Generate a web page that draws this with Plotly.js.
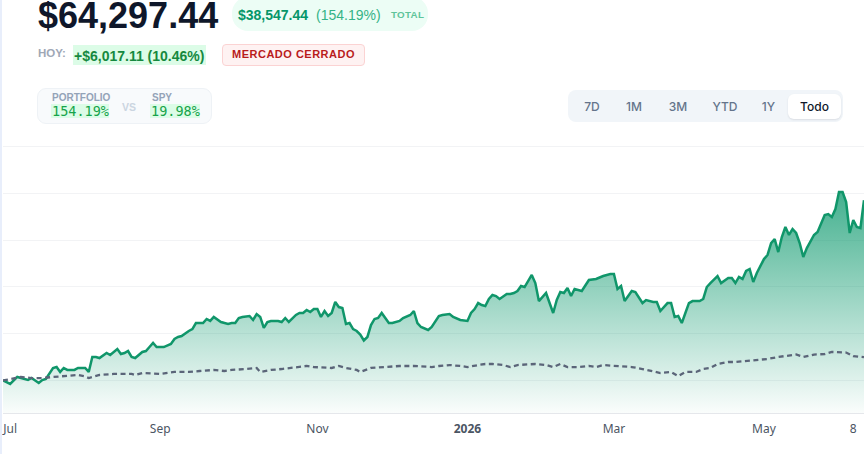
<!DOCTYPE html>
<html>
<head>
<meta charset="utf-8">
<script src="https://cdn.plot.ly/plotly-3.0.1.min.js"></script>
<style>
  html, body { margin:0; padding:0; background:#fff; }
  body { width:865px; height:454px; overflow:hidden; position:relative; font-family:"Liberation Sans", Arial, sans-serif; }
  #leftbar { position:absolute; left:0; top:0; width:2px; height:454px; background:#e8eefb; z-index:3; }
  #chart { position:absolute; left:0; top:0; width:865px; height:454px; z-index:1; }
  .a { position:absolute; white-space:nowrap; z-index:2; }
  #big { left:38px; top:0px; font-size:36px; line-height:31px; font-weight:bold; color:#0f172a; }
  #pill { left:232px; top:-3px; width:196px; height:34px; border-radius:16px; background:#ecfdf5; }
  #pillA { left:238px; top:8.2px; font-size:14px; line-height:14px; font-weight:bold; color:#059669; }
  #pillB { left:316px; top:8.2px; font-size:14px; line-height:14px; color:#34b386; }
  #pillC { left:391px; top:10.3px; font-size:9.8px; line-height:9.8px; font-weight:bold; color:#5fc49a; letter-spacing:0.3px; }
  #hoy { left:38px; top:47.8px; font-size:11.5px; line-height:11.5px; font-weight:bold; color:#a0a8b6; }
  #todayBg { left:73px; top:45px; width:133px; height:20px; background:#dcfce7; }
  #today { left:74px; top:49px; font-size:14px; line-height:14px; font-weight:bold; color:#16893f; }
  #closed { left:222px; top:44px; width:141px; height:20px; background:#fef2f2; border:1px solid #fbd3d3; border-radius:4px; }
  #closedT { left:232px; top:49px; font-size:11px; line-height:11px; font-weight:bold; color:#b91c1c; letter-spacing:0.5px; }
  #cmp { left:37px; top:88px; width:173px; height:34px; background:#f8fafc; border:1px solid #eef2f6; border-radius:9px; }
  .lab { font-size:10px; line-height:10px; font-weight:bold; color:#94a3b8; }
  #pl { left:52px; top:92.8px; }
  #sl { left:152px; top:92.8px; }
  #vs { left:122px; top:101.5px; font-size:10.5px; line-height:10.5px; font-weight:bold; color:#cbd5e1; }
  .mono { font-family:"DejaVu Sans Mono", monospace; font-size:13.5px; line-height:14px; color:#16a34a; background:#dcfce7; padding:0 0 0 1px; }
  #pv { left:51px; top:104.2px; }
  #sv { left:150px; top:104.2px; }
  #rng { left:568px; top:90px; width:275px; height:32px; background:#f1f5f9; border-radius:8px; }
  .btn { position:absolute; top:4px; height:25px; line-height:25px; text-align:center; font-family:Inter, "Noto Sans", sans-serif; font-size:12px; font-weight:500; color:#64748b; z-index:2; }
  .btn.on { background:#fff; border-radius:6px; color:#0f172a; box-shadow:0 1px 2px rgba(15,23,42,0.10); }
</style>
</head>
<body>
<div id="chart"></div>
<div id="leftbar"></div>
<div class="a" id="big">$64,297.44</div>
<div class="a" id="pill"></div>
<div class="a" id="pillA">$38,547.44</div>
<div class="a" id="pillB">(154.19%)</div>
<div class="a" id="pillC">TOTAL</div>
<div class="a" id="hoy">HOY:</div>
<div class="a" id="todayBg"></div>
<div class="a" id="today">+$6,017.11 (10.46%)</div>
<div class="a" id="closed"></div>
<div class="a" id="closedT">MERCADO CERRADO</div>
<div class="a" id="cmp"></div>
<div class="a lab" id="pl">PORTFOLIO</div>
<div class="a lab" id="sl">SPY</div>
<div class="a" id="vs">VS</div>
<div class="a mono" id="pv">154.19%</div>
<div class="a mono" id="sv">19.98%</div>
<div class="a" id="rng"></div>
<div id="btns"></div>
<script>
// ---- data (trading-day index since start, % return) ----
const portfolioDays = [0,2,4,5,7,8,10,11,12,14,15,16,17,18,20,21,23,24,25,26,27,29,30,32,33,34,35,36,37,39,40,41,42,43,45,47,48,49,50,52,53,54,56,57,58,59,61,63,64,65,66,67,69,70,71,72,73,74,75,77,78,79,80,82,83,84,85,86,87,88,89,90,91,92,93,94,95,96,97,98,99,100,101,102,103,104,105,106,108,109,111,112,114,115,116,117,119,120,122,123,125,126,128,130,131,132,133,134,135,136,137,138,139,141,142,143,144,145,146,148,149,150,152,154,155,156,157,158,159,160,162,164,166,168,170,171,172,173,174,176,177,179,180,182,183,184,186,187,188,189,190,191,192,193,195,196,197,198,200,201,203,204,205,206,207,208,209,210,211,213,214,215,216,217,218,219,220,221,222,223,224,225,227,228,230,231,232,233,234,235,236,237,238,239,240,241];
const portfolioPct = [0,-3.0,3.0,2.1,0.4,2.1,-2.1,0.4,1.3,10.7,11.5,7.3,10.7,9.0,9.0,10.7,10.7,7.3,20.1,20.1,19.2,23.5,21.8,26.9,22.6,23.5,25.2,20.1,19.2,24.4,25.2,28.6,32.1,28.6,28.6,31.2,35.5,37.2,38.0,42.3,44.0,49.1,49.1,52.6,50.9,54.3,50.0,48.3,49.1,49.1,53.4,54.3,55.1,51.7,56.8,54.3,44.9,50.0,50.9,50.9,50.0,53.4,50.0,56.0,57.7,57.7,60.3,58.5,61.1,61.1,54.3,59.4,55.1,57.7,67.1,62.8,62.0,48.3,49.1,44.0,42.3,39.3,34.2,37.2,47.4,52.6,53.4,57.7,49.1,49.1,50.9,53.4,56.0,59.4,49.1,45.7,43.2,45.7,55.1,56.0,56.8,54.3,51.7,50.9,57.7,61.1,66.2,64.5,63.7,69.7,73.1,72.2,69.7,73.9,73.9,74.8,76.5,80.8,79.9,90.2,83.3,67.9,74.8,57.7,68.8,75.6,74.8,79.1,72.2,78.2,76.5,85.9,86.8,89.3,91.0,91.0,78.2,80.8,67.9,76.5,75.6,66.2,68.8,67.1,67.1,59.4,66.2,66.2,54.3,55.1,49.1,57.7,66.2,67.9,67.9,69.7,79.9,83.3,89.3,83.3,87.6,87.6,83.3,88.5,86.8,93.6,95.3,84.2,91.9,103.8,107.3,117.5,120.9,109.8,122.6,131.2,124.4,129.5,126.1,117.5,105.6,113.2,124.4,126.9,141.5,142.3,139.7,146.6,161.1,161.1,152.6,126.1,137.2,131.2,130.3,154.19];
const spyDays = [0,3,5,8,11,14,18,21,23,24,27,31,36,37,39,44,48,52,55,59,62,64,68,71,72,75,78,83,85,87,90,92,94,96,99,100,103,106,108,111,115,118,120,122,125,128,130,133,135,137,140,142,144,149,152,154,156,158,161,164,166,168,171,174,176,179,182,184,187,189,191,194,196,198,200,203,205,208,210,214,217,219,222,224,227,230,232,236,238,241];
const spyPct = [0,2.1,3.0,2.1,2.1,3.0,3.8,4.7,3.4,2.1,4.7,5.6,5.6,4.7,6.4,5.6,7.3,7.3,8.1,9.0,8.1,9.0,9.8,10.7,7.3,9.0,9.8,11.5,12.4,11.5,10.7,10.7,12.4,10.7,9.0,7.3,10.7,11.5,11.5,12.4,12.4,11.5,11.5,12.4,13.2,12.4,11.5,13.2,14.1,14.1,13.2,11.5,13.2,14.1,13.2,11.5,14.1,11.5,11.5,12.4,11.5,13.2,12.4,11.5,11.5,9.8,8.1,6.4,7.3,3.8,7.3,7.3,9.8,10.7,14.1,15.8,15.8,16.7,17.5,18.4,20.1,20.9,22.2,20.1,22.2,22.6,24.4,23.9,20.9,19.98];
const tickDays = [2,44,88,130,171,213,238];
const tickLabels = ['Jul','Sep','Nov','<b>2026</b>','Mar','May','8'];
const rangeButtons = ['7D','1M','3M','YTD','1Y','Todo'];

const Y_MIN = -27.8, Y_MAX = 205.6, X_MAX = 241;

// range buttons
(function(){
  const widths = [40,42,44,48,37,53];
  let left = 572;
  const host = document.getElementById('btns');
  rangeButtons.forEach((t,i)=>{
    const b = document.createElement('div');
    b.className = 'btn' + (t==='Todo' ? ' on' : '');
    b.style.left = left + 'px';
    b.style.top = '94px';
    b.style.width = widths[i] + 'px';
    b.textContent = t;
    host.appendChild(b);
    left += widths[i] + 1;
  });
})();

const baseline = {
  x: portfolioDays, y: portfolioDays.map(()=>Y_MIN),
  mode:'lines', line:{width:0, color:'rgba(0,0,0,0)'}, hoverinfo:'skip', showlegend:false
};
const portfolio = {
  x: portfolioDays, y: portfolioPct, mode:'lines', name:'Portfolio',
  line:{color:'#10966a', width:2.5, shape:'linear'},
  fill:'tonexty',
  fillgradient:{type:'vertical', start:Y_MIN, stop:162,
    colorscale:[[0,'rgba(5,150,105,0.02)'],[1,'rgba(5,150,105,0.75)']]},
  showlegend:false
};
const spy = {
  x: spyDays, y: spyPct, mode:'lines', name:'SPY',
  line:{color:'#5b6579', width:2.3, dash:'5px,3.5px'},
  showlegend:false
};

Plotly.newPlot('chart', [baseline, portfolio, spy], {
  width:865, height:454,
  margin:{l:3, r:1, t:140, b:41},
  paper_bgcolor:'rgba(0,0,0,0)', plot_bgcolor:'rgba(0,0,0,0)',
  xaxis:{range:[0, X_MAX], showgrid:false, zeroline:false, showline:true, linecolor:'#e5e7eb', linewidth:1,
    tickmode:'array', tickvals:tickDays, ticktext:tickLabels, ticks:'', ticklabelstandoff:5,
    tickfont:{family:'"Noto Sans", sans-serif', size:12, color:'#4b5563'}, fixedrange:true},
  yaxis:{range:[Y_MIN, Y_MAX], tick0:0, dtick:40, showticklabels:false, showgrid:true,
    gridcolor:'#f2f3f5', gridwidth:1, zeroline:false, showline:false, ticks:'', fixedrange:true},
  showlegend:false, hovermode:false
}, {displayModeBar:false, staticPlot:true});
</script>
</body>
</html>
